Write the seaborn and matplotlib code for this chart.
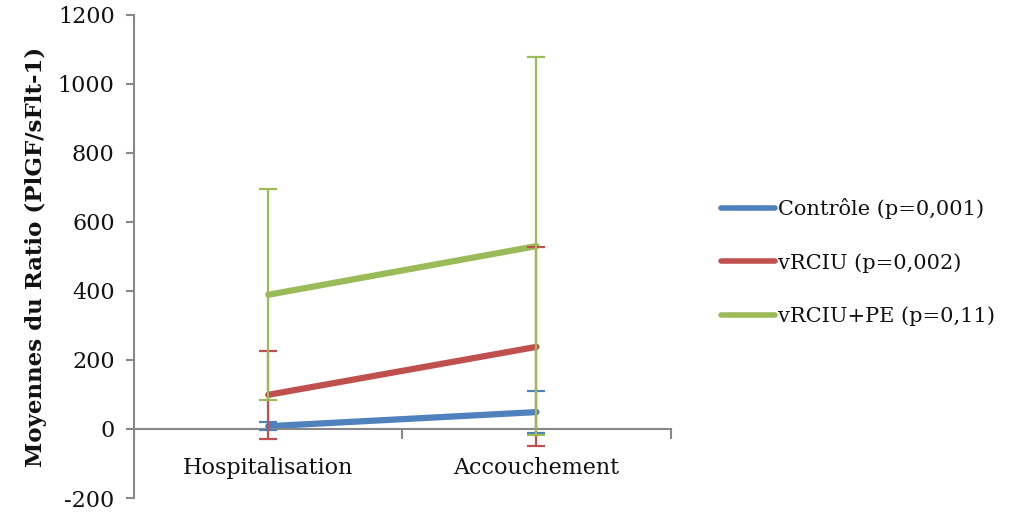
import matplotlib
matplotlib.use("Agg")
import matplotlib.pyplot as plt
import seaborn as sns
import pandas as pd
import numpy as np

categories = ["Hospitalisation", "Accouchement"]
groups = ["Contrôle (p=0,001)", "vRCIU (p=0,002)", "vRCIU+PE (p=0,11)"]
controle_mean = [8, 49]
controle_err = [12, 61]
vrciu_mean = [99, 238]
vrciu_err = [127, 288]
vrciu_pe_mean = [389, 530]
vrciu_pe_err = [306, 548]
colors = ["#4F81BD", "#C0504D", "#9BBB59"]
yticks = [-200, 0, 200, 400, 600, 800, 1000, 1200]

means = [controle_mean, vrciu_mean, vrciu_pe_mean]
errs = [controle_err, vrciu_err, vrciu_pe_err]

rows = []
for g, m, e in zip(groups, means, errs):
    for i, c in enumerate(categories):
        rows.append({"group": g, "pos": i, "category": c, "mean": m[i], "err": e[i]})
df = pd.DataFrame(rows)

sns.set_style("white")
plt.rcParams["font.family"] = ["DejaVu Serif"]

fig = plt.figure(figsize=(10.16, 5.15), dpi=100)
ax = fig.add_axes([0.132, 0.033, 0.528, 0.938])

sns.lineplot(data=df, x="pos", y="mean", hue="group", hue_order=groups,
             palette=colors, linewidth=4.5, ax=ax, legend=True,
             solid_capstyle="round")

for g, col in zip(groups, colors):
    sub = df[df["group"] == g]
    ax.errorbar(sub["pos"], sub["mean"], yerr=sub["err"], fmt="none",
                ecolor=col, elinewidth=1.6, capsize=6.5, capthick=1.6, zorder=3)

ax.set_xlim(-0.5, 1.5)
ax.set_ylim(-200, 1200)
ax.set_yticks(yticks)
ax.set_yticklabels([str(v) for v in yticks])

ax.set_xticks([-0.5, 0.5, 1.5])
ax.set_xticklabels([])
ax.set_xticks([0, 1], minor=True)
ax.set_xticklabels(categories, minor=True)
ax.tick_params(axis="x", which="major", direction="out", length=7, width=1.5,
               color="#888888", bottom=True)
ax.tick_params(axis="x", which="minor", length=0, pad=20, labelsize=16,
               labelcolor="#111111")
ax.tick_params(axis="y", direction="out", length=6, width=1.5, color="#888888",
               left=True, pad=8, labelsize=16, labelcolor="#111111")

for s in ["top", "right"]:
    ax.spines[s].set_visible(False)
ax.spines["bottom"].set_position(("data", 0))
for s in ["left", "bottom"]:
    ax.spines[s].set_color("#888888")
    ax.spines[s].set_linewidth(1.5)

ax.set_xlabel("")
ax.set_ylabel("Moyennes du Ratio (PlGF/sFlt-1)", fontsize=16.5, fontweight="bold",
              labelpad=8, color="#111111")

leg = ax.legend(loc="center left", bbox_to_anchor=(1.078, 0.488), frameon=False,
                fontsize=15, handlelength=2.6, handletextpad=0.15,
                labelspacing=1.62, borderaxespad=0)
for t in leg.get_texts():
    t.set_color("#111111")
for h in leg.get_lines():
    h.set_linewidth(4)

fig.savefig("out.png", dpi=100)
